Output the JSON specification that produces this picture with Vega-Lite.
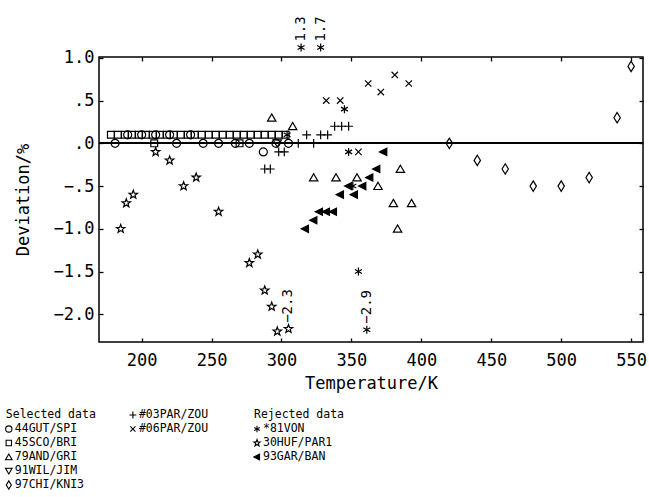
{
  "$schema": "https://vega.github.io/schema/vega-lite/v6.json",
  "width": 544,
  "height": 285,
  "autosize": "none",
  "padding": {"left": 99, "top": 57, "right": 6, "bottom": 155},
  "background": "white",
  "config": {
    "view": {"stroke": "black", "strokeWidth": 1.5},
    "font": "DejaVu Sans Mono",
    "axis": {
      "labelFont": "DejaVu Sans Mono", "labelFontSize": 17, "labelColor": "black",
      "titleFont": "DejaVu Sans Mono", "titleFontSize": 17, "titleFontWeight": "normal", "titleColor": "black",
      "tickColor": "black", "tickSize": -4, "tickWidth": 1.3, "domain": false, "grid": false
    },
    "text": {"font": "DejaVu Sans Mono", "fontSize": 14, "color": "black"}
  },
  "datasets": {
    "points": [
      {"T": 181, "dev": 0.0, "series": "44GUT/SPI"},
      {"T": 225, "dev": 0.0, "series": "44GUT/SPI"},
      {"T": 244, "dev": 0.0, "series": "44GUT/SPI"},
      {"T": 255, "dev": 0.0, "series": "44GUT/SPI"},
      {"T": 267, "dev": 0.0, "series": "44GUT/SPI"},
      {"T": 277, "dev": 0.0, "series": "44GUT/SPI"},
      {"T": 296, "dev": 0.0, "series": "44GUT/SPI"},
      {"T": 305, "dev": 0.0, "series": "44GUT/SPI"},
      {"T": 190, "dev": 0.1, "series": "44GUT/SPI"},
      {"T": 200, "dev": 0.1, "series": "44GUT/SPI"},
      {"T": 210, "dev": 0.1, "series": "44GUT/SPI"},
      {"T": 220, "dev": 0.1, "series": "44GUT/SPI"},
      {"T": 235, "dev": 0.1, "series": "44GUT/SPI"},
      {"T": 287, "dev": -0.1, "series": "44GUT/SPI"},
      {"T": 178, "dev": 0.1, "series": "45SCO/BRI"},
      {"T": 183, "dev": 0.1, "series": "45SCO/BRI"},
      {"T": 188, "dev": 0.1, "series": "45SCO/BRI"},
      {"T": 193, "dev": 0.1, "series": "45SCO/BRI"},
      {"T": 198, "dev": 0.1, "series": "45SCO/BRI"},
      {"T": 203, "dev": 0.1, "series": "45SCO/BRI"},
      {"T": 208, "dev": 0.1, "series": "45SCO/BRI"},
      {"T": 213, "dev": 0.1, "series": "45SCO/BRI"},
      {"T": 218, "dev": 0.1, "series": "45SCO/BRI"},
      {"T": 223, "dev": 0.1, "series": "45SCO/BRI"},
      {"T": 228, "dev": 0.1, "series": "45SCO/BRI"},
      {"T": 233, "dev": 0.1, "series": "45SCO/BRI"},
      {"T": 238, "dev": 0.1, "series": "45SCO/BRI"},
      {"T": 243, "dev": 0.1, "series": "45SCO/BRI"},
      {"T": 248, "dev": 0.1, "series": "45SCO/BRI"},
      {"T": 253, "dev": 0.1, "series": "45SCO/BRI"},
      {"T": 258, "dev": 0.1, "series": "45SCO/BRI"},
      {"T": 263, "dev": 0.1, "series": "45SCO/BRI"},
      {"T": 268, "dev": 0.1, "series": "45SCO/BRI"},
      {"T": 273, "dev": 0.1, "series": "45SCO/BRI"},
      {"T": 278, "dev": 0.1, "series": "45SCO/BRI"},
      {"T": 283, "dev": 0.1, "series": "45SCO/BRI"},
      {"T": 288, "dev": 0.1, "series": "45SCO/BRI"},
      {"T": 293, "dev": 0.1, "series": "45SCO/BRI"},
      {"T": 298, "dev": 0.1, "series": "45SCO/BRI"},
      {"T": 303, "dev": 0.1, "series": "45SCO/BRI"},
      {"T": 209, "dev": 0.0, "series": "45SCO/BRI"},
      {"T": 270, "dev": 0.0, "series": "45SCO/BRI"},
      {"T": 293, "dev": 0.3, "series": "79AND/GRI"},
      {"T": 308, "dev": 0.2, "series": "79AND/GRI"},
      {"T": 323, "dev": -0.4, "series": "79AND/GRI"},
      {"T": 339, "dev": -0.4, "series": "79AND/GRI"},
      {"T": 354, "dev": -0.4, "series": "79AND/GRI"},
      {"T": 369, "dev": -0.5, "series": "79AND/GRI"},
      {"T": 380, "dev": -0.7, "series": "79AND/GRI"},
      {"T": 385, "dev": -0.3, "series": "79AND/GRI"},
      {"T": 383, "dev": -1.0, "series": "79AND/GRI"},
      {"T": 393, "dev": -0.7, "series": "79AND/GRI"},
      {"T": 297, "dev": 0.0, "series": "91WIL/JIM"},
      {"T": 420, "dev": 0.0, "series": "97CHI/KNI3"},
      {"T": 440, "dev": -0.2, "series": "97CHI/KNI3"},
      {"T": 460, "dev": -0.3, "series": "97CHI/KNI3"},
      {"T": 480, "dev": -0.5, "series": "97CHI/KNI3"},
      {"T": 500, "dev": -0.5, "series": "97CHI/KNI3"},
      {"T": 520, "dev": -0.4, "series": "97CHI/KNI3"},
      {"T": 540, "dev": 0.3, "series": "97CHI/KNI3"},
      {"T": 550, "dev": 0.9, "series": "97CHI/KNI3"},
      {"T": 288, "dev": -0.3, "series": "#03PAR/ZOU"},
      {"T": 292, "dev": -0.3, "series": "#03PAR/ZOU"},
      {"T": 298, "dev": -0.1, "series": "#03PAR/ZOU"},
      {"T": 302, "dev": -0.1, "series": "#03PAR/ZOU"},
      {"T": 312, "dev": 0.0, "series": "#03PAR/ZOU"},
      {"T": 323, "dev": 0.0, "series": "#03PAR/ZOU"},
      {"T": 318, "dev": 0.1, "series": "#03PAR/ZOU"},
      {"T": 328, "dev": 0.1, "series": "#03PAR/ZOU"},
      {"T": 333, "dev": 0.1, "series": "#03PAR/ZOU"},
      {"T": 338, "dev": 0.2, "series": "#03PAR/ZOU"},
      {"T": 343, "dev": 0.2, "series": "#03PAR/ZOU"},
      {"T": 348, "dev": 0.2, "series": "#03PAR/ZOU"},
      {"T": 332, "dev": 0.5, "series": "#06PAR/ZOU"},
      {"T": 342, "dev": 0.5, "series": "#06PAR/ZOU"},
      {"T": 355, "dev": -0.1, "series": "#06PAR/ZOU"},
      {"T": 362, "dev": 0.7, "series": "#06PAR/ZOU"},
      {"T": 371, "dev": 0.6, "series": "#06PAR/ZOU"},
      {"T": 381, "dev": 0.8, "series": "#06PAR/ZOU"},
      {"T": 391, "dev": 0.7, "series": "#06PAR/ZOU"},
      {"T": 314, "dev": 1.12, "series": "*81VON", "note": "1.3"},
      {"T": 328, "dev": 1.12, "series": "*81VON", "note": "1.7"},
      {"T": 304, "dev": 0.1, "series": "*81VON"},
      {"T": 345, "dev": 0.4, "series": "*81VON"},
      {"T": 348, "dev": -0.1, "series": "*81VON"},
      {"T": 351, "dev": -0.5, "series": "*81VON"},
      {"T": 355, "dev": -1.5, "series": "*81VON"},
      {"T": 361, "dev": -2.18, "series": "*81VON", "note": "−2.9"},
      {"T": 185, "dev": -1.0, "series": "30HUF/PAR1"},
      {"T": 189, "dev": -0.7, "series": "30HUF/PAR1"},
      {"T": 194, "dev": -0.6, "series": "30HUF/PAR1"},
      {"T": 210, "dev": -0.1, "series": "30HUF/PAR1"},
      {"T": 220, "dev": -0.2, "series": "30HUF/PAR1"},
      {"T": 230, "dev": -0.5, "series": "30HUF/PAR1"},
      {"T": 239, "dev": -0.4, "series": "30HUF/PAR1"},
      {"T": 255, "dev": -0.8, "series": "30HUF/PAR1"},
      {"T": 277, "dev": -1.4, "series": "30HUF/PAR1"},
      {"T": 283, "dev": -1.3, "series": "30HUF/PAR1"},
      {"T": 288, "dev": -1.72, "series": "30HUF/PAR1"},
      {"T": 293, "dev": -1.91, "series": "30HUF/PAR1"},
      {"T": 297, "dev": -2.2, "series": "30HUF/PAR1"},
      {"T": 305, "dev": -2.17, "series": "30HUF/PAR1", "note": "−2.3"},
      {"T": 373, "dev": -0.1, "series": "93GAR/BAN"},
      {"T": 368, "dev": -0.3, "series": "93GAR/BAN"},
      {"T": 363, "dev": -0.4, "series": "93GAR/BAN"},
      {"T": 358, "dev": -0.5, "series": "93GAR/BAN"},
      {"T": 348, "dev": -0.5, "series": "93GAR/BAN"},
      {"T": 342, "dev": -0.6, "series": "93GAR/BAN"},
      {"T": 352, "dev": -0.6, "series": "93GAR/BAN"},
      {"T": 327, "dev": -0.8, "series": "93GAR/BAN"},
      {"T": 332, "dev": -0.8, "series": "93GAR/BAN"},
      {"T": 337, "dev": -0.8, "series": "93GAR/BAN"},
      {"T": 323, "dev": -0.9, "series": "93GAR/BAN"},
      {"T": 317, "dev": -1.0, "series": "93GAR/BAN"}
    ],
    "legend": [
      {"header": "Selected data", "col": 0, "row": 0},
      {"header": "Rejected data", "col": 2, "row": 0},
      {"series": "44GUT/SPI", "col": 0, "row": 1},
      {"series": "45SCO/BRI", "col": 0, "row": 2},
      {"series": "79AND/GRI", "col": 0, "row": 3},
      {"series": "91WIL/JIM", "col": 0, "row": 4},
      {"series": "97CHI/KNI3", "col": 0, "row": 5},
      {"series": "#03PAR/ZOU", "col": 1, "row": 0},
      {"series": "#06PAR/ZOU", "col": 1, "row": 1},
      {"series": "*81VON", "col": 2, "row": 1},
      {"series": "30HUF/PAR1", "col": 2, "row": 2},
      {"series": "93GAR/BAN", "col": 2, "row": 3}
    ]
  },
  "layer": [
    {
      "data": {"name": "points"},
      "layer": [
        {
          "mark": {"type": "rule", "color": "black", "strokeWidth": 1.3},
          "encoding": {
            "y": {"datum": 0, "type": "quantitative",
              "scale": {"domain": [-2.324, 1.01], "nice": false, "zero": false},
              "axis": {"orient": "right", "values": [-2, -1.5, -1, -0.5, 0, 0.5, 1], "labels": false, "title": null}}
          }
        },
        {
          "mark": {"type": "point", "filled": true, "opacity": 1, "stroke": "black", "strokeWidth": 1.2, "size": 64},
          "encoding": {
            "x": {"field": "T", "type": "quantitative",
              "scale": {"domain": [169.5, 558.5], "nice": false, "zero": false},
              "axis": {"orient": "bottom", "values": [200, 250, 300, 350, 400, 450, 500, 550], "title": "Temperature/K", "labelPadding": 14, "titlePadding": 7}},
            "y": {"field": "dev", "type": "quantitative",
              "scale": {"domain": [-2.324, 1.01], "nice": false, "zero": false},
              "axis": {"orient": "left", "values": [-2, -1.5, -1, -0.5, 0, 0.5, 1], "title": "Deviation/%", "labelPadding": 9, "titlePadding": 21,
                "labelExpr": "datum.value == 0 ? '.0' : (abs(datum.value) < 1 ? (datum.value < 0 ? '−.5' : '.5') : format(datum.value, '.1f'))"}},
            "shape": {"field": "series", "type": "nominal", "legend": null,
              "scale": {
                "domain": ["44GUT/SPI", "45SCO/BRI", "79AND/GRI", "91WIL/JIM", "97CHI/KNI3", "#03PAR/ZOU", "#06PAR/ZOU", "*81VON", "30HUF/PAR1", "93GAR/BAN"],
                "range": [
                  "M1,0A1,1,0,1,1,-1,0A1,1,0,1,1,1,0Z",
                  "M-0.85,-0.85L0.85,-0.85L0.85,0.85L-0.85,0.85Z",
                  "M0,-0.95L1.05,0.85L-1.05,0.85Z",
                  "M0,0.95L1.05,-0.85L-1.05,-0.85Z",
                  "M0,-1.3L0.8,0L0,1.3L-0.8,0Z",
                  "M-1.1,0L1.1,0M0,-1.1L0,1.1",
                  "M-0.8,-0.8L0.8,0.8M0.8,-0.8L-0.8,0.8",
                  "M0,-1L0,1M-0.87,-0.5L0.87,0.5M-0.87,0.5L0.87,-0.5",
                  "M0,-1.1L0.265,-0.364L1.046,-0.34L0.428,0.139L0.647,0.89L0,0.45L-0.647,0.89L-0.428,0.139L-1.046,-0.34L-0.265,-0.364Z",
                  "M-1,0L0.8,-0.9L0.8,0.9Z"
                ]}},
            "fill": {"condition": {"test": "datum.series === '93GAR/BAN'", "value": "black"}, "value": "transparent"}
          }
        },
        {
          "transform": [{"filter": "datum.note"}],
          "mark": {"type": "text", "angle": 270, "align": "left", "baseline": "middle", "dx": 6, "fontSize": 14},
          "encoding": {
            "x": {"field": "T", "type": "quantitative",
              "scale": {"domain": [169.5, 558.5], "nice": false, "zero": false},
              "axis": {"orient": "top", "values": [200, 250, 300, 350, 400, 450, 500, 550], "labels": false, "title": null}},
            "y": {"field": "dev", "type": "quantitative",
              "scale": {"domain": [-2.324, 1.01], "nice": false, "zero": false}, "axis": null},
            "text": {"field": "note"}
          }
        }
      ],
      "resolve": {"axis": {"x": "independent", "y": "independent"}}
    },
    {
      "data": {"name": "legend"},
      "encoding": {
        "x": {"field": "col", "type": "quantitative", "scale": {"domain": [0, 2], "range": [-90.2, 158]}, "axis": null},
        "y": {"field": "row", "type": "quantitative", "scale": {"domain": [0, 5], "range": [358, 428]}, "axis": null}
      },
      "layer": [
        {
          "transform": [{"filter": "datum.series"}],
          "mark": {"type": "point", "filled": true, "opacity": 1, "stroke": "black", "strokeWidth": 1.1, "size": 40},
          "encoding": {
            "shape": {"field": "series", "type": "nominal", "legend": null},
            "fill": {"condition": {"test": "datum.series === '93GAR/BAN'", "value": "black"}, "value": "transparent"}
          }
        },
        {
          "transform": [{"filter": "datum.series"}],
          "mark": {"type": "text", "align": "left", "baseline": "middle", "dx": 6, "fontSize": 11.5},
          "encoding": {"text": {"field": "series"}}
        },
        {
          "transform": [{"filter": "datum.header"}],
          "mark": {"type": "text", "align": "left", "baseline": "middle", "dx": -3, "fontSize": 11.5},
          "encoding": {"text": {"field": "header"}}
        }
      ]
    }
  ],
  "resolve": {"scale": {"x": "independent", "y": "independent"}}
}
